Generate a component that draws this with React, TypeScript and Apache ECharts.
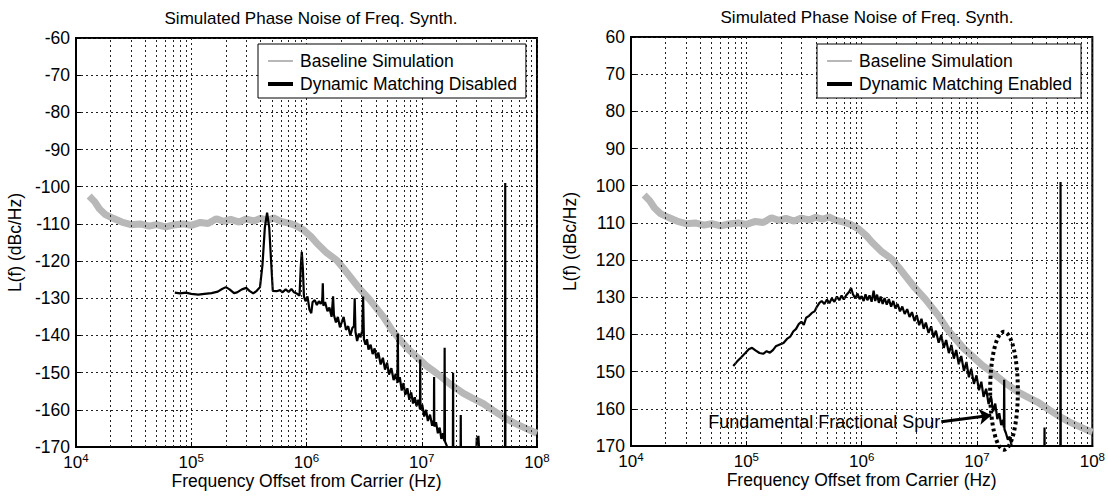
import React, { useEffect, useRef } from "react";
import * as echarts from "echarts";

const FONT = "'Liberation Sans', Arial, Helvetica, sans-serif";

const chartTitle = "Simulated Phase Noise of Freq. Synth.";
const xAxisTitle = "Frequency Offset from Carrier (Hz)";
const yAxisTitle = "L(f) (dBc/Hz)";
const baselineName = "Baseline Simulation";
const disabledName = "Dynamic Matching Disabled";
const enabledName = "Dynamic Matching Enabled";
const spurLabel = "Fundamental Fractional Spur";

const decades = [1e4, 1e5, 1e6, 1e7];
const minorSteps = [2, 3, 4, 5, 6, 7, 8, 9];

// Baseline simulation (dBc/Hz)
const baselinePoints: [number, number][] = [
  [1.3e4, -102.5], [1.45e4, -104], [1.6e4, -106], [1.8e4, -107.5], [2.1e4, -108.5],
  [2.5e4, -109.5], [3e4, -110.2], [3.6e4, -110], [4.3e4, -110.6], [5e4, -110.2],
  [6e4, -110.8], [7e4, -110.3], [8.5e4, -110], [1e5, -110.4], [1.2e5, -109.6],
  [1.4e5, -109.9], [1.65e5, -108.6], [1.9e5, -109.3], [2.2e5, -108.8], [2.6e5, -109.5],
  [3e5, -108.7], [3.5e5, -109.2], [4e5, -108.5], [4.6e5, -109], [5.2e5, -108.4],
  [6e5, -109.3], [7e5, -109.8], [8e5, -110.4], [9.4e5, -111.6], [1.1e6, -113.5],
  [1.23e6, -115.2], [1.5e6, -117.8], [1.82e6, -119.7], [2.1e6, -122], [2.39e6, -124.2],
  [2.9e6, -127.5], [3.56e6, -130.5], [4.65e6, -135], [5.5e6, -138.5], [6.5e6, -141.2],
  [7.7e6, -143.8], [9e6, -145.7], [1.1e7, -148.2], [1.35e7, -150.2], [1.75e7, -153],
  [2.3e7, -155.6], [2.8e7, -157], [3.4e7, -158.3], [4.2e7, -160.2], [5.1e7, -161.9],
  [6.3e7, -163.5], [8e7, -165], [1e8, -166.3],
];

// Dynamic matching disabled (dBc/Hz)
const disabledPoints: [number, number][] = [
  [7.2e4, -128.5], [8e4, -128.7], [9e4, -128.5], [1e5, -128.8], [1.15e5, -129], [1.3e5, -128.8],
  [1.5e5, -128.6], [1.7e5, -128.2], [1.85e5, -127.5], [2e5, -127], [2.15e5, -127.6], [2.35e5, -128.6],
  [2.5e5, -128.4], [2.75e5, -127.6], [3e5, -127.2], [3.2e5, -128], [3.45e5, -128.7], [3.7e5, -128],
  [3.95e5, -127], [4.15e5, -121], [4.35e5, -111], [4.55e5, -107], [4.75e5, -111], [4.95e5, -121],
  [5.1e5, -128], [5.5e5, -128.1], [5.9e5, -127.8], [6.2e5, -128.4], [6.6e5, -127.6], [7e5, -128.3],
  [7.4e5, -127.5], [7.8e5, -128.4], [8.3e5, -128.8], [8.7e5, -129.3], [8.9e5, -122], [9.1e5, -117.5],
  [9.3e5, -122], [9.5e5, -129.5], [9.8e5, -130.8], [1.02e6, -129.5], [1.06e6, -133], [1.1e6, -134],
  [1.13e6, -131], [1.18e6, -130.5], [1.23e6, -131.8], [1.28e6, -130.8], [1.33e6, -131.5], [1.37e6, -130.5],
  [1.385e6, -126], [1.4e6, -132], [1.45e6, -131], [1.52e6, -133.5], [1.58e6, -132.5], [1.65e6, -135],
  [1.7e6, -129.5], [1.73e6, -134.5], [1.8e6, -136.5], [1.87e6, -135], [1.95e6, -137.8], [2.02e6, -136.5],
  [2.1e6, -135], [2.2e6, -138.5], [2.3e6, -137.5], [2.4e6, -140], [2.5e6, -138], [2.58e6, -137.5],
  [2.62e6, -130], [2.66e6, -139], [2.75e6, -141.5], [2.85e6, -139.5], [2.95e6, -140.5], [3.05e6, -138.5],
  [3.1e6, -129.5], [3.15e6, -141], [3.25e6, -142.5], [3.35e6, -141], [3.45e6, -143.8], [3.6e6, -142.5],
  [3.75e6, -145], [3.9e6, -143.5], [4.05e6, -146.2], [4.2e6, -144.6], [4.4e6, -147.8], [4.6e6, -146],
  [4.8e6, -149.2], [5e6, -147.3], [5.2e6, -150.5], [5.45e6, -148.8], [5.7e6, -152], [5.95e6, -150.3],
  [6.15e6, -152.8], [6.2e6, -139.5], [6.25e6, -152.5], [6.45e6, -151.2], [6.7e6, -154.8], [6.95e6, -152.8],
  [7.2e6, -156], [7.5e6, -154.2], [7.8e6, -157.3], [8.1e6, -155.3], [8.4e6, -158.3], [8.7e6, -156.6],
  [9e6, -159], [9.35e6, -157.3], [9.65e6, -159.8], [9.7e6, -146.5], [9.75e6, -160], [1.01e7, -158.6],
  [1.05e7, -161.8], [1.09e7, -160], [1.13e7, -163], [1.18e7, -161.3], [1.23e7, -164.3], [1.275e7, -162.6],
  [1.28e7, -151.2], [1.285e7, -164.5], [1.33e7, -163.3], [1.38e7, -166.3], [1.43e7, -164.8], [1.48e7, -167.8],
  [1.53e7, -166.3], [1.57e7, -168.4], [1.58e7, -143.3], [1.59e7, -168.5], [1.64e7, -169.5], [1.7e7, -171],
  [1.8e7, -175], [1.86e7, -175], [1.87e7, -150], [1.88e7, -175], [2.17e7, -175], [2.18e7, -161.4],
  [2.19e7, -175], [2.95e7, -175], [3e7, -167.5], [3.05e7, -168.2], [3.1e7, -167], [3.2e7, -175],
  [5.28e7, -175], [5.3e7, -99], [5.32e7, -175], [1e8, -175],
];

// Dynamic matching enabled (dBc/Hz, plotted as positive magnitude)
const enabledPoints: [number, number][] = [
  [7.7e4, 148.5], [8.3e4, 147.3], [9e4, 146.2], [9.8e4, 145], [1.05e5, 144], [1.12e5, 143.6],
  [1.2e5, 144.3], [1.3e5, 145], [1.4e5, 145.2], [1.5e5, 144.5], [1.6e5, 144.9], [1.7e5, 144.2],
  [1.8e5, 143.2], [1.95e5, 142.7], [2.1e5, 142.3], [2.25e5, 141.2], [2.4e5, 140.6], [2.55e5, 139.2],
  [2.7e5, 138.5], [2.85e5, 137.2], [3e5, 136.6], [3.15e5, 137.4], [3.3e5, 135.5], [3.5e5, 135],
  [3.7e5, 134.2], [3.9e5, 133.8], [4.1e5, 132.5], [4.3e5, 131.5], [4.5e5, 131], [4.75e5, 131.8],
  [5e5, 130.6], [5.25e5, 131.6], [5.5e5, 130.3], [5.8e5, 131.2], [6.1e5, 129.8], [6.4e5, 130.8],
  [6.7e5, 129.5], [7e5, 130.6], [7.4e5, 129.3], [7.8e5, 128.5], [8.1e5, 127.5], [8.4e5, 129.2],
  [8.8e5, 130.3], [9.2e5, 129], [9.6e5, 130.5], [1e6, 129.7], [1.04e6, 131], [1.08e6, 129.2],
  [1.12e6, 130.8], [1.17e6, 129.5], [1.22e6, 131.2], [1.27e6, 128.2], [1.31e6, 131], [1.36e6, 129.3],
  [1.41e6, 131.5], [1.46e6, 129.8], [1.52e6, 131.8], [1.58e6, 130.2], [1.65e6, 132], [1.72e6, 130.5],
  [1.8e6, 132.5], [1.88e6, 131], [1.96e6, 133], [2.05e6, 131.8], [2.15e6, 133.8], [2.25e6, 132.5],
  [2.36e6, 134.5], [2.48e6, 133.2], [2.6e6, 135.3], [2.73e6, 134], [2.87e6, 136.4], [3e6, 134.8],
  [3.15e6, 137.5], [3.3e6, 135.8], [3.45e6, 138.5], [3.6e6, 136.8], [3.8e6, 139.6], [4e6, 137.8],
  [4.2e6, 140.8], [4.4e6, 139], [4.65e6, 142.2], [4.9e6, 140.2], [5.15e6, 143.6], [5.4e6, 141.5],
  [5.7e6, 145], [6e6, 142.8], [6.3e6, 146.5], [6.6e6, 144.2], [6.95e6, 148], [7.3e6, 145.8],
  [7.7e6, 149.8], [8.1e6, 147.4], [8.5e6, 151.5], [8.9e6, 149.2], [9.4e6, 153.3], [9.9e6, 151],
  [1.04e7, 155], [1.09e7, 152.7], [1.14e7, 156.8], [1.2e7, 154.6], [1.26e7, 158.7], [1.32e7, 156.6],
  [1.38e7, 160.7], [1.44e7, 158.6], [1.5e7, 162.8], [1.56e7, 161.2], [1.62e7, 164.4], [1.68e7, 163],
  [1.71e7, 165], [1.72e7, 152.2], [1.73e7, 165.5], [1.78e7, 166.5], [1.85e7, 168.3], [1.92e7, 167.5],
  [2e7, 170], [2.1e7, 172], [2.2e7, 175], [3.83e7, 175], [3.85e7, 165], [3.87e7, 175],
  [5.28e7, 175], [5.3e7, 99], [5.32e7, 175], [1e8, 175],
];

// Annotation anchors (data coordinates, right chart)
const spurEllipseX = [1.3e7, 2.26e7];
const spurEllipseY = [139.3, 171];
const arrowTail: [number, number] = [4.9e6, 163.5];
const arrowHead: [number, number] = [1.33e7, 161.7];

const minorGrid = decades.flatMap((d) => minorSteps.map((m) => m * d));

const grayIcon = "path://M0,0L0.01,0M0,14L0.01,14M0,6L25,6L25,8L0,8Z";
const blackIcon = "path://M0,0L0.01,0M0,14L0.01,14M0,5L25,5L25,9L0,9Z";

const GRID_LINE = { color: "#222", width: 1, type: [2, 3] };

function xAxisFor(gridIndex: number) {
  return {
    type: "log",
    logBase: 10,
    gridIndex,
    min: 1e4,
    max: 1e8,
    name: xAxisTitle,
    nameLocation: "middle",
    nameGap: 25,
    nameMoveOverlap: false,
    nameTextStyle: { fontSize: 17.5, color: "#000", fontFamily: FONT, lineHeight: 18 },
    axisLine: { show: true, lineStyle: { color: "#000", width: 2 } },
    axisTick: { show: true, inside: true, length: 5, lineStyle: { color: "#000" } },
    axisLabel: {
      margin: 5,
      formatter: (v: number) => `{b|10}{s|${Math.round(Math.log10(v))}}`,
      rich: {
        b: { fontSize: 17, color: "#000", fontFamily: FONT, lineHeight: 19, verticalAlign: "bottom" },
        s: { fontSize: 11.5, color: "#000", fontFamily: FONT, lineHeight: 19, verticalAlign: "top" },
      },
    },
    splitLine: { show: true, lineStyle: GRID_LINE },
  };
}

function yAxisFor(gridIndex: number, min: number, max: number, inverse: boolean) {
  return {
    type: "value",
    gridIndex,
    min,
    max,
    interval: 10,
    inverse,
    name: yAxisTitle,
    nameLocation: "middle",
    nameGap: 52,
    nameMoveOverlap: false,
    nameTextStyle: { fontSize: 17.5, color: "#000", fontFamily: FONT },
    axisLine: { show: true, lineStyle: { color: "#000", width: 2 } },
    axisTick: { show: true, inside: true, length: 5, lineStyle: { color: "#000" } },
    axisLabel: { fontSize: 17.5, color: "#000", fontFamily: FONT, margin: 6 },
    splitLine: { show: true, lineStyle: GRID_LINE },
  };
}

function gridLineSeries(idx: number, y: number) {
  return {
    type: "line",
    xAxisIndex: idx,
    yAxisIndex: idx,
    data: [[1e4, y]],
    symbol: "none",
    silent: true,
    z: 1,
    lineStyle: { opacity: 0 },
    markLine: {
      silent: true,
      symbol: ["none", "none"],
      label: { show: false },
      lineStyle: GRID_LINE,
      emphasis: { disabled: true },
      data: minorGrid.map((v) => ({ xAxis: v })),
    },
  };
}

export default function App() {
  const ref = useRef<HTMLDivElement>(null);
  useEffect(() => {
    if (!ref.current) return;
    const chart = echarts.init(ref.current, undefined, { renderer: "svg" });
    const legendCommon = {
      orient: "vertical",
      selectedMode: false,
      backgroundColor: "#fff",
      borderColor: "#000",
      borderWidth: 1,
      padding: [7, 9, 4, 10],
      itemGap: 3,
      itemWidth: 25,
      itemHeight: 14,
      itemStyle: { borderWidth: 0 },
      textStyle: { fontSize: 17.5, color: "#000", fontFamily: FONT, lineHeight: 20, padding: [0, 0, 0, 2] },
      z: 20,
    };
    const titleStyle = { fontSize: 17, fontWeight: "normal", color: "#000", fontFamily: FONT };
    chart.setOption({
      animation: false,
      textStyle: { fontFamily: FONT },
      title: [
        { text: chartTitle, left: 306, top: 5, textAlign: "center", textStyle: titleStyle },
        { text: chartTitle, left: 862, top: 4, textAlign: "center", textStyle: titleStyle },
      ],
      legend: [
        {
          ...legendCommon,
          left: 258,
          top: 44,
          data: [
            { name: baselineName, icon: grayIcon, itemStyle: { color: "#b8b8b8", borderWidth: 0 } },
            { name: disabledName, icon: blackIcon, itemStyle: { color: "#000", borderWidth: 0 } },
          ],
        },
        {
          ...legendCommon,
          left: 817,
          top: 44,
          data: [
            { name: baselineName, icon: grayIcon, itemStyle: { color: "#b8b8b8", borderWidth: 0 } },
            { name: enabledName, icon: blackIcon, itemStyle: { color: "#000", borderWidth: 0 } },
          ],
        },
      ],
      grid: [
        { left: 76, top: 38, width: 461, height: 409, show: true, borderColor: "#000", borderWidth: 2, backgroundColor: "transparent" },
        { left: 631, top: 37, width: 463, height: 409, show: true, borderColor: "#000", borderWidth: 2, backgroundColor: "transparent" },
      ],
      xAxis: [xAxisFor(0), xAxisFor(1)],
      yAxis: [yAxisFor(0, -170, -60, false), yAxisFor(1, 60, 170, true)],
      series: [
        gridLineSeries(0, -170),
        gridLineSeries(1, 170),
        {
          name: baselineName,
          type: "line",
          xAxisIndex: 0,
          yAxisIndex: 0,
          data: baselinePoints,
          symbol: "none",
          z: 2,
          lineStyle: { color: "#b8b8b8", width: 7 },
          itemStyle: { color: "#b8b8b8" },
        },
        {
          name: disabledName,
          type: "line",
          xAxisIndex: 0,
          yAxisIndex: 0,
          data: disabledPoints,
          symbol: "none",
          z: 3,
          lineStyle: { color: "#000", width: 2.2 },
          itemStyle: { color: "#000" },
        },
        {
          name: baselineName,
          type: "line",
          xAxisIndex: 1,
          yAxisIndex: 1,
          data: baselinePoints.map(([f, v]) => [f, -v]),
          symbol: "none",
          z: 2,
          lineStyle: { color: "#b8b8b8", width: 7 },
          itemStyle: { color: "#b8b8b8" },
        },
        {
          name: enabledName,
          type: "line",
          xAxisIndex: 1,
          yAxisIndex: 1,
          data: enabledPoints,
          symbol: "none",
          z: 3,
          lineStyle: { color: "#000", width: 2.2 },
          itemStyle: { color: "#000" },
          markLine: {
            silent: true,
            symbol: ["none", "arrow"],
            symbolSize: 12,
            lineStyle: { color: "#000", width: 3, type: "solid" },
            emphasis: { disabled: true },
            label: {
              show: true,
              position: "start",
              distance: 1,
              formatter: spurLabel,
              fontSize: 18,
              color: "#000",
              fontFamily: FONT,
            },
            data: [[{ coord: arrowTail }, { coord: arrowHead }]],
          },
        },
      ],
    });

    const p0 = chart.convertToPixel({ gridIndex: 1 }, [spurEllipseX[0], spurEllipseY[0]]) as number[];
    const p1 = chart.convertToPixel({ gridIndex: 1 }, [spurEllipseX[1], spurEllipseY[1]]) as number[];
    if (p0 && p1) {
      chart.setOption({
        graphic: [
          {
            type: "ellipse",
            silent: true,
            z: 30,
            shape: {
              cx: (p0[0] + p1[0]) / 2,
              cy: (p0[1] + p1[1]) / 2,
              rx: Math.abs(p1[0] - p0[0]) / 2,
              ry: Math.abs(p1[1] - p0[1]) / 2,
            },
            style: { fill: "none", stroke: "#000", lineWidth: 4, lineDash: [3, 3] },
          },
        ],
      });
    }
    return () => chart.dispose();
  }, []);
  return <div ref={ref} style={{ position: "absolute", left: 0, top: 0, width: 1108, height: 500 }} />;
}
